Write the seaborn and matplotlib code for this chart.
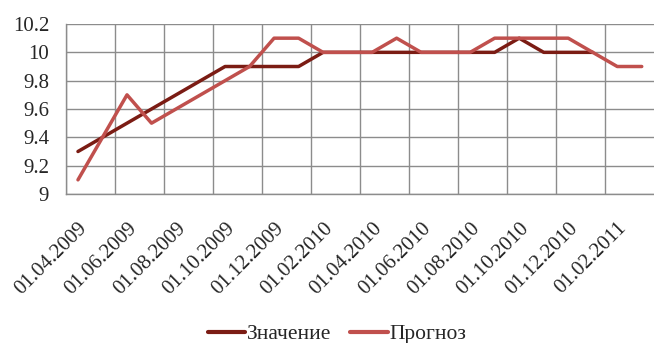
import numpy as np
import pandas as pd
import matplotlib
matplotlib.use("Agg")
import matplotlib.pyplot as plt
import seaborn as sns
from matplotlib.lines import Line2D

dates = ["01.04.2009", "01.05.2009", "01.06.2009", "01.07.2009", "01.08.2009", "01.09.2009",
         "01.10.2009", "01.11.2009", "01.12.2009", "01.01.2010", "01.02.2010", "01.03.2010",
         "01.04.2010", "01.05.2010", "01.06.2010", "01.07.2010", "01.08.2010", "01.09.2010",
         "01.10.2010", "01.11.2010", "01.12.2010", "01.01.2011", "01.02.2011", "01.03.2011"]
values = [9.3, 9.4, 9.5, 9.6, 9.7, 9.8, 9.9, 9.9, 9.9, 9.9, 10.0, 10.0,
          10.0, 10.0, 10.0, 10.0, 10.0, 10.0, 10.1, 10.0, 10.0, 10.0, np.nan, np.nan]
forecast = [9.1, 9.4, 9.7, 9.5, 9.6, 9.7, 9.8, 9.9, 10.1, 10.1, 10.0, 10.0,
            10.0, 10.1, 10.0, 10.0, 10.0, 10.1, 10.1, 10.1, 10.1, 10.0, 9.9, 9.9]
series_names = ["Значение", "Прогноз"]
y_ticks = [9.0, 9.2, 9.4, 9.6, 9.8, 10.0, 10.2]
y_labels = ["9", "9.2", "9.4", "9.6", "9.8", "10", "10.2"]

sns.set_style("white")
plt.rcParams['font.family'] = ['Liberation Serif', 'DejaVu Serif']

idx = list(range(len(dates)))
df = pd.DataFrame({
    "idx": idx + idx,
    "value": values + forecast,
    "series": [series_names[0]] * len(dates) + [series_names[1]] * len(dates),
})

fig = plt.figure(figsize=(6.54, 3.43), dpi=100)
ax = fig.add_axes([0.1005, 0.4344, 0.8995, 0.4956])

palette = {series_names[0]: "#7B1C14", series_names[1]: "#C0504D"}
sns.lineplot(data=df, x="idx", y="value", hue="series", hue_order=series_names,
             palette=palette, linewidth=2.5, ax=ax, legend=False, sort=False)

n = len(dates)
ax.set_xlim(-0.5, n - 0.5)
ax.set_ylim(9.0, 10.2)

grid_c = "#8C8C8C"
ax.set_xticks([i - 0.5 for i in range(0, n, 2)])
ax.set_xticklabels([])
ax.set_xticks(idx[::2], minor=True)
ax.set_xticklabels(dates[::2], minor=True, rotation=45, ha="right",
                   rotation_mode="anchor", fontsize=15)
ax.tick_params(axis="x", which="major", length=6, width=1, color=grid_c, direction="out")
ax.tick_params(axis="x", which="minor", length=0, pad=18)
ax.set_yticks(y_ticks)
ax.set_yticklabels(y_labels, fontsize=15)
ax.tick_params(axis="y", length=5, width=1, color=grid_c, direction="out", pad=7)

ax.grid(True, which="major", color=grid_c, linewidth=1)
ax.set_axisbelow(True)
for s in ["top", "right"]:
    ax.spines[s].set_visible(False)
for s in ["left", "bottom"]:
    ax.spines[s].set_color(grid_c)
    ax.spines[s].set_linewidth(1)
ax.set_xlabel("")
ax.set_ylabel("")

handles = [Line2D([0], [0], color=palette[s], linewidth=3) for s in series_names]
fig.legend(handles, series_names, loc="lower center", bbox_to_anchor=(0.515, -0.06),
           ncol=2, frameon=False, fontsize=15.5, handlelength=1.75,
           handletextpad=0.05, columnspacing=0.9)

fig.savefig("out.png", dpi=100)
